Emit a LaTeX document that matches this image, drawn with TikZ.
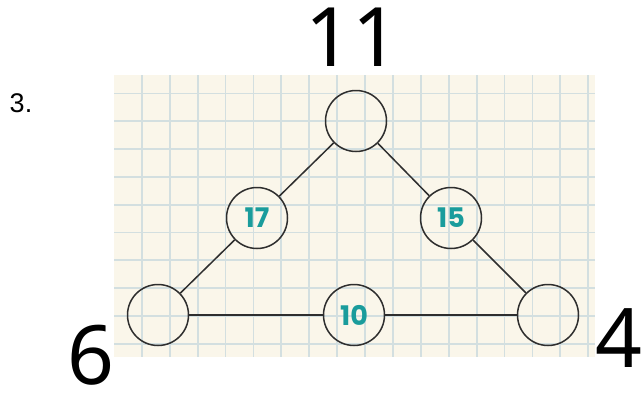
\documentclass[tikz,border=0pt]{standalone}
\usepackage{fontspec}
\setmainfont{Noto Sans}
\newfontfamily\numfont{Liberation Sans}
\newfontfamily\cirfont{Poppins}
\definecolor{paper}{HTML}{FAF6EA}
\definecolor{gridline}{HTML}{D3DFE0}
\definecolor{teal}{HTML}{1A9C9C}
\definecolor{pen}{HTML}{2E2E2E}
\begin{document}
\begin{tikzpicture}[x=1pt,y=-1pt,
    ring/.style={circle,draw=pen,line width=1.5pt,minimum size=61pt,inner sep=0pt,
      font=\cirfont\bfseries\fontsize{27}{27}\selectfont,text=teal},
    corner/.style={font=\fontsize{82}{82}\selectfont,inner sep=0pt},
    edge/.style={draw=pen,line width=1.5pt}]
  \useasboundingbox (0,0) rectangle (644,394);
  % squared paper
  \fill [paper] (114,75) rectangle (595,357);
  \foreach \x in {141.8,169.7,...,590} \draw [gridline,line width=1.8pt] (\x,75) -- (\x,357);
  \foreach \y in {93.5,121.3,...,350} \draw [gridline,line width=1.8pt] (114,\y) -- (595,\y);
  \node [font=\numfont\fontsize{27}{27}\selectfont] (num) at (21,103) {3.};
  \node [ring] (t) at (356,121) {};
  \node [ring] (l) at (257,218) {17};
  \node [ring] (r) at (451,218) {15};
  \node [ring] (bl) at (158,315) {};
  \node [ring] (b) at (354,315) {10};
  \node [ring] (br) at (548,315) {};
  \draw [edge] (t) -- (l);
  \draw [edge] (l) -- (bl);
  \draw [edge] (t) -- (r);
  \draw [edge] (r) -- (br);
  \draw [edge] (bl) -- (b);
  \draw [edge] (b) -- (br);
  \node [corner] (top) at (352,37) {11};
  \node [corner] (left) at (91,355) {6};
  \node [corner] (right) at (619,338) {4};
\end{tikzpicture}
\end{document}
